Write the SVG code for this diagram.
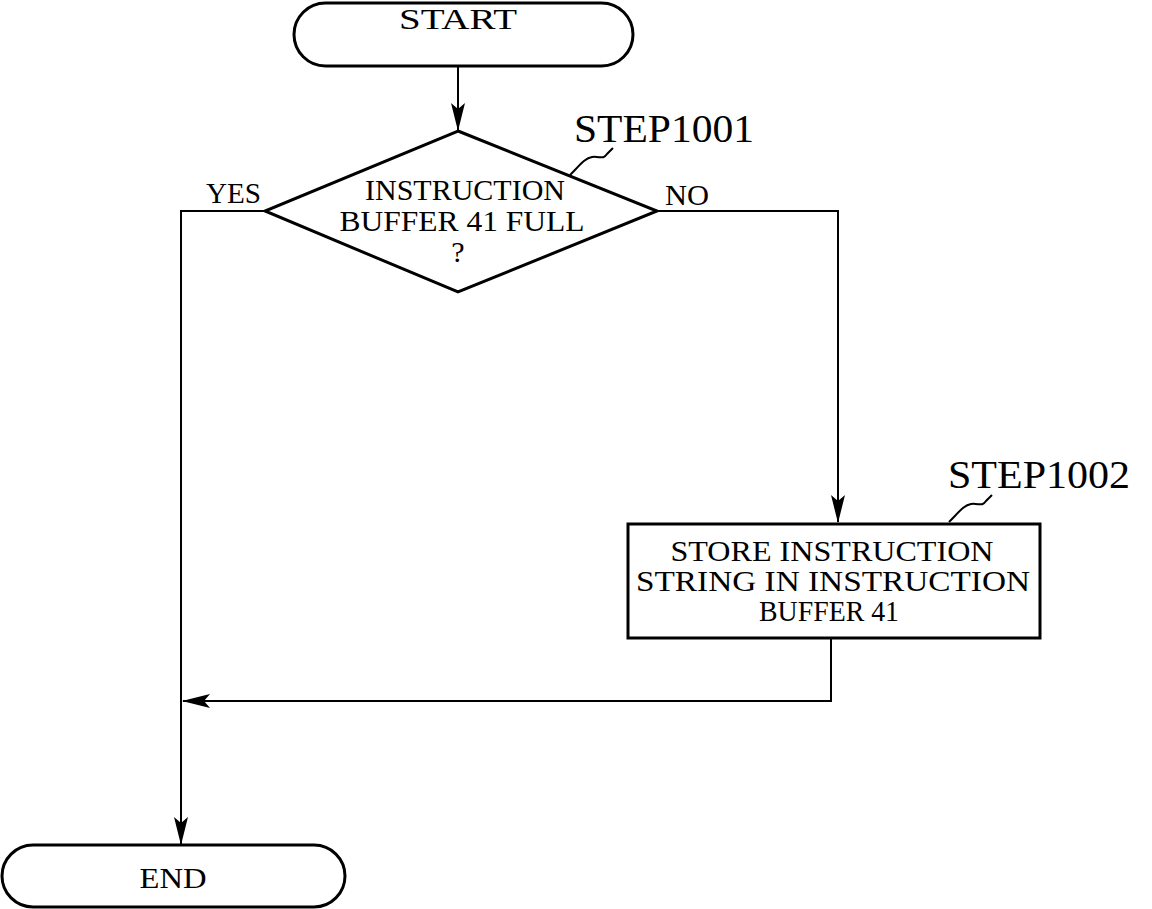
<svg xmlns="http://www.w3.org/2000/svg" width="1152" height="909" viewBox="0 0 1152 909">
<style>
.s{fill:none;stroke:#000;stroke-width:3}
.c{fill:none;stroke:#000;stroke-width:2}
.t{font-family:"Liberation Serif","Times New Roman",serif;fill:#000;font-size:30px}
.m{text-anchor:middle}
.l{font-size:40px}
</style>
<defs>
<marker id="b" markerWidth="28" markerHeight="14" refX="27" refY="7" orient="auto" markerUnits="userSpaceOnUse" viewBox="0 0 28 14">
<path d="M0,0 L28,7 L0,14 L6,7 Z" fill="#000"/>
</marker>
</defs>
<g id="connectors">
<path class="c" d="M458,66 V130" marker-end="url(#b)"/>
<path class="c" d="M265,211 H181 V844" marker-end="url(#b)"/>
<path class="c" d="M657,211 H838 V522" marker-end="url(#b)"/>
<path class="c" d="M831,638 V701 H183" marker-end="url(#b)"/>
</g>
<g id="start">
<rect class="s" x="294" y="3" width="339" height="63" rx="31.5"/>
<text class="t m" x="458" y="29" font-size="32" textLength="118" lengthAdjust="spacingAndGlyphs">START</text>
</g>
<g id="step1001">
<polygon class="s" points="458,131 657,211 458,292 265,211"/>
<text class="t m" x="465" y="200" textLength="200" lengthAdjust="spacingAndGlyphs">INSTRUCTION</text>
<text class="t m" x="462" y="231" textLength="245" lengthAdjust="spacingAndGlyphs">BUFFER 41  FULL</text>
<text class="t m" x="458" y="262">?</text>
<text class="t" x="206" y="203" textLength="55" lengthAdjust="spacingAndGlyphs">YES</text>
<text class="t" x="665" y="205" textLength="44" lengthAdjust="spacingAndGlyphs">NO</text>
<text class="t l" x="574" y="142" textLength="180" lengthAdjust="spacingAndGlyphs">STEP1001</text>
<path class="c" d="M570,175 C580,165 585,158 592,157 C600,156 603,160 607,154 L613,148"/>
</g>
<g id="step1002">
<rect class="s" x="628" y="524" width="412" height="114"/>
<text class="t m" x="832" y="561" textLength="323" lengthAdjust="spacingAndGlyphs">STORE  INSTRUCTION</text>
<text class="t m" x="833" y="591" textLength="394" lengthAdjust="spacingAndGlyphs">STRING  IN  INSTRUCTION</text>
<text class="t m" x="829" y="621" textLength="140" lengthAdjust="spacingAndGlyphs">BUFFER 41</text>
<text class="t l" x="948" y="488" textLength="182" lengthAdjust="spacingAndGlyphs">STEP1002</text>
<path class="c" d="M949,522 C959,512 964,505 971,504 C979,503 982,507 986,501 L992,495"/>
</g>
<g id="end">
<rect class="s" x="2" y="845" width="343" height="62" rx="31"/>
<text class="t m" x="173" y="888" font-size="32" textLength="67" lengthAdjust="spacingAndGlyphs">END</text>
</g>
</svg>
